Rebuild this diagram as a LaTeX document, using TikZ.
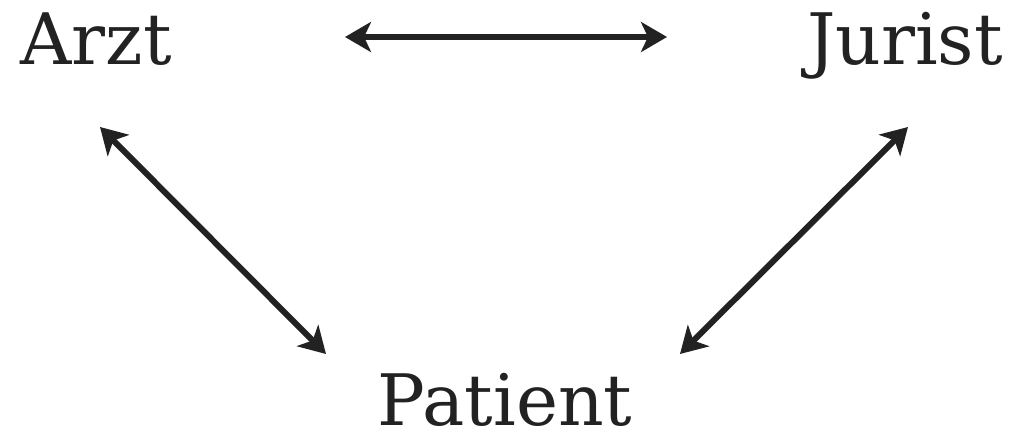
\documentclass[tikz,border=0pt]{standalone}
\usepackage{fontspec}
\setmainfont{DejaVu Serif}
\usetikzlibrary{arrows.meta}
\definecolor{ink}{HTML}{222222}
\begin{document}
\begin{tikzpicture}[x=1pt,y=-1pt,
  lbl/.style={anchor=base,inner sep=0pt,text=ink,font=\fontsize{71}{75}\selectfont},
  arr/.style={line width=6pt,draw=ink,{Stealth[length=26pt,width=30pt,inset=7pt]}-{Stealth[length=26pt,width=30pt,inset=7pt]}}]
\useasboundingbox (0,0) rectangle (1014,436);
\node[lbl] (arzt) at (96,65) {Arzt};
\node[lbl] (jurist) at (905,65) {Jurist};
\node[lbl] (patient) at (505,425) {Patient};
\coordinate (a1) at (345,37);
\coordinate (a2) at (667,37);
\coordinate (b1) at (100,127);
\coordinate (b2) at (326,354);
\coordinate (c1) at (908,127);
\coordinate (c2) at (680,354);
\draw[arr] (a1) -- (a2);
\draw[arr] (b1) -- (b2);
\draw[arr] (c1) -- (c2);
\end{tikzpicture}
\end{document}
